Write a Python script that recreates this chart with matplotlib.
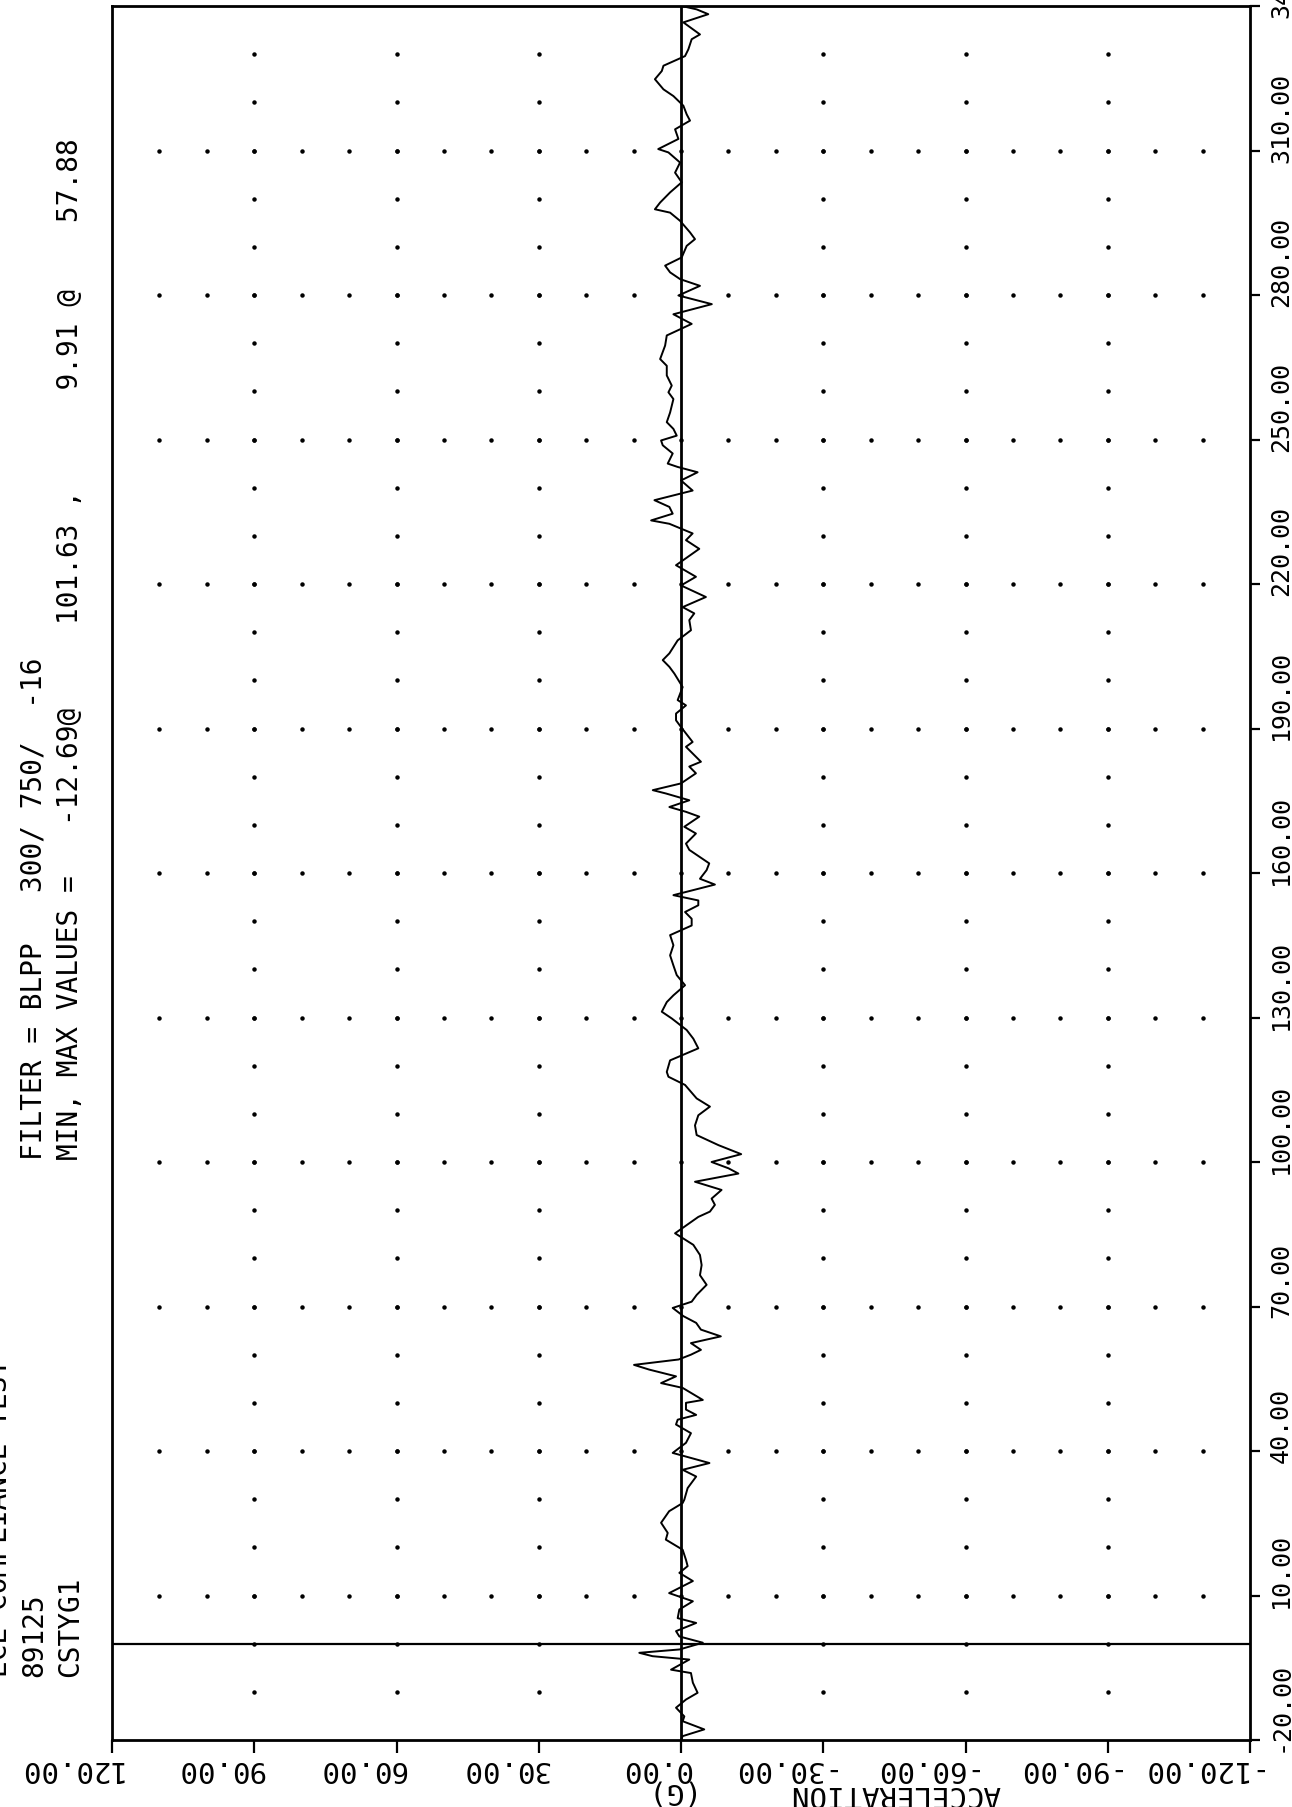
import matplotlib
matplotlib.use("Agg")
import matplotlib.pyplot as plt
from matplotlib.transforms import blended_transform_factory, offset_copy
import numpy as np

W, H = 1292, 1807
MONO = "DejaVu Sans Mono"

# trace: time (ms) and acceleration (G)
time_ms = [
    -20.0, -19.2, -17.8, -16.1, -15.1, -13.3, -11.6, -10.2, -8.1, -6.1, -5.4, -3.3, -2.6, -1.9, -1.2,
    0.2, 1.5, 2.6, 4.3, 5.3, 7.1, 8.8, 10.5, 13.0, 14.7, 16.1, 17.4, 19.5, 21.6, 23.0, 25.1, 27.5,
    29.2, 29.9, 32.3, 34.7, 36.1, 37.5, 39.6, 41.7, 43.7, 45.5, 46.5, 47.5, 48.6, 50.0, 50.6, 53.1,
    54.1, 55.5, 56.9, 57.88, 59.0, 60.0, 61.0, 62.4, 63.8, 65.2, 66.6, 68.0, 69.7,
    71.0, 72.4, 74.5, 76.5, 78.6, 80.7, 82.8, 85.2, 86.9, 88.6, 89.7, 91.1, 92.4, 94.2, 95.9, 97.6,
    98.7, 100.0, 101.63, 103.5, 105.6, 107.6, 109.7, 111.5, 113.2, 116.0, 117.7, 118.7, 121.1, 123.6,
    125.6, 127.4, 129.8, 131.2, 133.2, 134.6, 136.7, 138.8, 140.8, 142.9, 145.0, 147.1, 149.1, 150.5,
    151.9, 153.3, 154.3, 155.4, 157.6, 158.8, 160.6,
    162.0, 164.8, 166.1, 168.2, 169.6, 171.7, 172.7, 173.7, 175.1, 176.5, 177.2, 178.6, 180.7, 182.1,
    183.1, 186.2, 187.2, 190.3, 191.7, 193.1, 194.8, 195.9, 198.6, 201.4, 202.8, 204.2, 205.6, 208.3,
    210.4, 212.5, 213.9, 215.2, 217.3, 219.7, 221.5, 223.9, 225.6, 227.3, 229.1, 230.5, 231.5, 232.5,
    233.2, 234.6, 236.0, 237.4, 239.4, 241.5, 243.2, 244.3, 245.0, 247.1, 248.8, 249.8,
    250.8, 252.2, 253.6, 255.6, 258.4, 259.8, 261.2, 263.3, 265.3, 266.7, 269.5, 271.6, 274.0, 276.0,
    278.1, 279.9, 281.9, 283.3, 284.7, 286.1, 287.8, 290.2, 291.6, 293.0, 295.4, 297.1, 297.8, 299.2,
    301.3, 303.4, 305.4, 307.5, 309.6, 310.3, 312.4, 314.4, 316.2, 317.5, 319.3, 321.3, 322.7, 324.8,
    326.5, 327.6, 329.6, 331.0, 333.1, 334.1, 336.6, 338.3, 339.3, 340.0,
]
accel_g = [
    0.0, -0.35, -4.9, -0.35, -0.7, 1.05, -1.05, -3.5, -2.5, -2.1, 2.1, -1.75, 6.0, 8.8, 0.3,
    -4.6, 0.35, 1.05, -3.2, 0.7, 0.35, -2.5, 2.5, -2.5, 0.35, -1.4, -1.05, -0.35, 3.2, 2.8, 4.2, 2.5,
    -0.35, -0.7, -1.4, -3.2, -0.35, -6.0, 1.75, -1.05, -2.1, 1.05, 0.7, -3.2, -1.05, -1.05, -4.6, -0.35,
    4.2, 1.05, 6.7, 9.91, 0.5, -2.1, -4.2, -2.1, -8.4, -4.2, -3.2, -0.5, 1.75,
    -2.25, -3.3, -5.4, -4.0, -4.35, -4.0, -2.6, 1.25, -1.2, -3.65, -6.1, -7.15, -6.45, -8.55, -2.95, -12.1,
    -10.0, -6.45, -12.69, -7.9, -3.3, -2.95, -3.65, -6.1, -3.3, -0.85, 2.65, 3.0, 2.3, -3.65,
    -2.6, -1.2, 1.95, 4.05, 3.0, 1.6, -0.85, 0.9, 1.6, 2.3, 1.6, 2.3, -2.25, -2.25,
    -0.85, -3.65, -3.65, 1.6, -7.15, -4.0, -5.4,
    -5.95, -1.75, -1.05, -3.15, -0.7, -3.85, -1.05, 2.45, -1.75, 3.15, 5.95, 0.0, -3.15, -1.75,
    -4.2, -1.05, -2.45, 0.0, 1.05, 1.05, -1.05, 0.7, -0.35, 1.4, 2.45, 3.85, 2.45, 0.7,
    -2.1, -1.75, -2.8, -0.35, -5.25, 0.0, -3.15, 1.05, -1.4, -3.85, -1.05, -2.45, 0.0, 2.45,
    6.3, 1.75, 2.45, 5.6, -2.45, 0.0, -3.5, 0.7, 2.8, 1.75, 3.85, 4.2,
    0.9, 1.6, 3.0, 2.3, 1.6, 2.65, 1.95, 3.0, 3.0, 4.4, 3.35, 3.0, -2.25, 1.6,
    -6.5, 0.55, -4.0, 0.2, 2.3, 3.35, -0.15, -1.2, -2.95, -1.9, 0.2, 2.3, 5.5, 4.4,
    2.3, -0.15, 1.25, 0.2, 2.65, 4.8, 0.55, 1.25, -1.9, -1.2, -0.5, 1.6, 3.7, 5.5,
    4.05, 3.7, -0.85, -1.55, -2.25, -4.0, -0.5, -5.75, -3.3, -0.15,
]

acc_ticks = [120, 90, 60, 30, 0, -30, -60, -90, -120]
time_ticks = [-20, 10, 40, 70, 100, 130, 160, 190, 220, 250, 280, 310, 340]

test_name = "ECE COMPLIANCE TEST"
test_no = "89125"
channel = "CSTYG1"
filter_name = "BLPP"
filter_args = "300/ 750/  -16"
min_val, min_t = -12.69, 101.63
max_val, max_t = 9.91, 57.88
axis_name, axis_unit = "ACCELERATION", "(G)"

fig = plt.figure(figsize=(W / 100, H / 100), dpi=100)
fig.patch.set_facecolor("white")

left, right, top, bottom = 112, 1250, 6, 1740
ax = fig.add_axes([left / W, 1 - bottom / H, (right - left) / W, (bottom - top) / H])
ax.set_xlim(120, -120)
ax.set_ylim(-20, 340)

# dotted grid: a dot every 10 units along each major line
for t in time_ticks[1:-1]:
    xs = np.arange(-110, 111, 10)
    ax.plot(xs, np.full(len(xs), t), ls="none", marker="o", ms=2.2, color="black")
for a in acc_ticks[1:-1]:
    if a == 0:
        continue
    ts = np.arange(-10, 331, 10)
    ax.plot(np.full(len(ts), a), ts, ls="none", marker="o", ms=2.2, color="black")

ax.axvline(0, color="black", lw=2.0)
ax.axhline(0, color="black", lw=1.6)
ax.plot(accel_g, time_ms, color="black", lw=1.4)

for s in ax.spines.values():
    s.set_linewidth(2.0)
ax.set_xticks(acc_ticks)
ax.set_yticks(time_ticks)
ax.yaxis.tick_right()
ax.tick_params(axis="x", direction="out", length=9, width=1.6, labelbottom=False)
ax.tick_params(axis="y", direction="out", length=7, width=1.6, labelright=False, left=False)

# acceleration labels, printed upside down
bot_tr = offset_copy(blended_transform_factory(ax.transData, fig.transFigure),
                     fig=fig, x=10, y=0, units="dots")
for v in acc_ticks:
    fig.text(v, 1 - 1761 / H, f"{v:.2f}", transform=bot_tr, rotation=180,
             rotation_mode="anchor", ha="left", va="baseline", fontsize=21, family=MONO)
fig.text(1000 / W, 1 - 1786 / H, axis_name, rotation=180, rotation_mode="anchor",
         ha="left", va="baseline", fontsize=21, family=MONO)
fig.text(690 / W, 1 - 1784 / H, axis_unit, rotation=180, rotation_mode="anchor",
         ha="left", va="baseline", fontsize=21, family=MONO)

# time labels, reading upwards
right_tr = offset_copy(blended_transform_factory(fig.transFigure, ax.transData),
                       fig=fig, x=0, y=-12, units="dots")
for t in time_ticks:
    fig.text(1288 / W, t, f"{t:.2f}", transform=right_tr, rotation=90,
             rotation_mode="anchor", ha="left", va="baseline", fontsize=18, family=MONO)


def side_text(x, y, s):
    fig.text(x / W, 1 - y / H, s, rotation=90, rotation_mode="anchor",
             ha="left", va="baseline", fontsize=20, family=MONO)


side_text(7, 1677, test_name)
side_text(42, 1677, test_no)
side_text(78, 1677, channel)
side_text(42, 1160, f"FILTER = {filter_name}   {filter_args}")
side_text(78, 1160, f"MIN, MAX VALUES =   {min_val:.2f}@     {min_t:.2f} ,"
                    f"      {max_val:.2f} @    {max_t:.2f}")

fig.savefig("out.png", dpi=100)
